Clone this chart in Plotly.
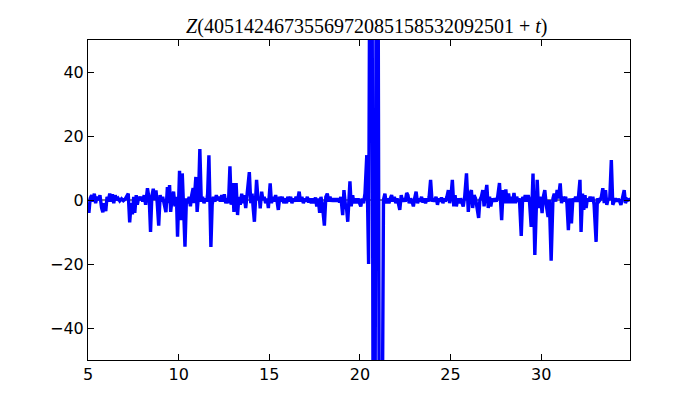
import plotly.graph_objects as go

t = [5.00, 5.05, 5.12, 5.20, 5.28, 5.35, 5.42, 5.50, 5.58, 5.66, 5.75, 5.82, 5.90, 5.98,
     6.05, 6.12, 6.20, 6.28, 6.35, 6.42, 6.50, 6.58, 6.66, 6.75, 6.85, 6.95, 7.05, 7.15,
     7.22, 7.30, 7.38, 7.45, 7.52, 7.58, 7.66, 7.72, 7.80, 7.88, 7.95, 8.02, 8.10, 8.18,
     8.28, 8.38, 8.45, 8.52, 8.60, 8.68, 8.75, 8.82, 8.90, 8.98, 9.05, 9.12, 9.20, 9.30,
     9.38, 9.45,
     9.50, 9.56, 9.64, 9.72, 9.80, 9.88, 9.94, 10.05, 10.12, 10.20, 10.27, 10.35, 10.43,
     10.50, 10.58, 10.65, 10.72, 10.80, 10.85, 10.95, 11.02, 11.10, 11.17, 11.25, 11.32,
     11.40, 11.48, 11.55, 11.60, 11.67, 11.78, 11.85, 11.92, 12.00, 12.08, 12.15, 12.22,
     12.30, 12.38, 12.45, 12.52, 12.60, 12.68, 12.75, 12.83, 12.90, 12.98, 13.05, 13.10,
     13.17, 13.25, 13.32, 13.40, 13.48, 13.55, 13.62, 13.70, 13.78,
     13.90, 13.98, 14.05, 14.12, 14.18, 14.30, 14.38, 14.45, 14.50, 14.58, 14.65, 14.72,
     14.80, 14.88, 14.95, 15.05, 15.12, 15.20, 15.28, 15.35, 15.42, 15.50, 15.58, 15.65,
     15.72, 15.80, 15.88, 15.95, 16.02, 16.10, 16.18, 16.25, 16.32, 16.40, 16.48, 16.55,
     16.65, 16.72, 16.80, 16.88, 16.95, 17.02, 17.10, 17.18, 17.25, 17.32, 17.40, 17.48,
     17.55, 17.62, 17.70, 17.78, 17.85, 17.92, 18.04, 18.12, 18.20, 18.28, 18.35, 18.42,
     18.50,
     18.58, 18.65, 18.72, 18.80, 18.88, 18.95, 19.05, 19.12, 19.20, 19.27, 19.33, 19.45,
     19.52, 19.60, 19.67, 19.75, 19.82, 19.90, 19.98, 20.05, 20.12, 20.20, 20.28, 20.38,
     20.48, 20.62, 20.78, 20.95, 21.12, 21.30,
     21.38, 21.45, 21.52, 21.60, 21.68, 21.75, 21.82, 21.90, 21.98, 22.05, 22.12, 22.20,
     22.28, 22.35, 22.42, 22.50, 22.58,
     22.65, 22.72, 22.80, 22.88, 22.95, 23.02, 23.10, 23.18, 23.25, 23.32, 23.40, 23.48,
     23.55, 23.62, 23.70, 23.78, 23.82, 23.90, 23.98, 24.05, 24.12, 24.20, 24.28, 24.35,
     24.42, 24.50, 24.58, 24.65, 24.72, 24.80, 24.88, 24.95, 25.02, 25.10, 25.18, 25.25,
     25.32, 25.40, 25.48, 25.55, 25.62, 25.70, 25.78, 25.88, 25.98, 26.05, 26.15, 26.22,
     26.30, 26.38, 26.45, 26.55, 26.62, 26.70, 26.78, 26.85, 26.92, 27.00, 27.08,
     27.15, 27.22, 27.30, 27.38, 27.45, 27.52, 27.60, 27.70, 27.82, 27.90, 27.98, 28.05,
     28.12, 28.20, 28.28, 28.35, 28.42, 28.50, 28.58, 28.65, 28.72, 28.80, 28.90, 28.98,
     29.05, 29.12, 29.20, 29.28, 29.35, 29.45, 29.55, 29.65, 29.78, 29.85, 29.92, 30.00,
     30.05, 30.12, 30.20, 30.28, 30.38, 30.45, 30.55, 30.65, 30.72, 30.80, 30.88, 30.95,
     31.05, 31.12, 31.20, 31.28, 31.35, 31.42, 31.50, 31.58, 31.67, 31.75, 31.82, 31.90,
     31.98, 32.05, 32.14, 32.20, 32.28, 32.35, 32.42, 32.48, 32.55, 32.62, 32.70, 32.78,
     32.85, 32.92, 33.03, 33.10, 33.18, 33.25, 33.32, 33.40, 33.48, 33.55, 33.62, 33.70,
     33.78, 33.87, 33.95, 34.02, 34.10, 34.18, 34.25, 34.32, 34.40, 34.48, 34.58, 34.65,
     34.72, 34.80, 34.90, 35.00]

z = [-1, -4, 0.5, 1.5, -0.5, 2, -1, 1, 0, 1.5, -2.5, -3.8, -1, -3.5,
     1, -0.5, 2, -0.5, 1.8, -1, 1.5, 0, 0.5, -0.3, 0.4, -0.2, 0.3, 1.5,
     2, -7, -1, -4.5, 1, -4, 1.5, -1.5, 1, 0, 1, -0.5, 1.5, -1.5,
     3.7, 0, -10, 1, 3.5, 0, 3, -1, -8, 1.5, -0.5, 1, -1, -3.8,
     4, -1,
     4.7, -3.7, 0.5, 2.6, -2, 1, -11.5, 9.1, -6.3, 8.3, -2, -14.6, 0.5,
     -1, 1, -2, 1.5, 3.7, -1, 7.2, -3.7, 2, 15.9, -0.5, 1,
     -1, 0.5, -0.5, 2, 14, -14.7, -1.5, 1, -0.5, 1.5, 0, 1,
     -0.5, 1.5, -0.5, 1.8, -1, 0.5, -1, 10.5, -1.5, 5.3, -3.7, 1,
     5.3, -4.7, 1, -1.5, 2, -1, 1.5, -2.5, 2,
     8.7, -1, 2, -3, -6.8, 6.3, 0, 1, -2.6, 2.6, 0, 1,
     -1, 0.5, -2.5, 5.2, -1, 1, -0.5, 1.5, 0, -3.1, 1, -0.5,
     1, -1, 0.5, -1, 1, -0.5, 1, -1, 0.5, -0.5, 1, -0.5,
     2.6, -0.5, 1, -1, 0.5, -0.5, 1, -0.8, 0.5, -1, 0.5, -1,
     0.8, -2, 0.5, -4, 1, -1, -8, 1, 2, -0.5, 1, -0.5,
     0.5,
     -0.5, 0.5, -0.5, 0.5, -0.8, 1, -4.7, 3.1, -1.5, -3, -6.8, 5.8,
     -2, 1.5, -1, 0.5, -1, 0.5, -1, -2, 0.5, -1, 2, 14,
     -20, 200, -200, 200, -200, 0,
     2, -1, 0.5, -1, 0.5, 1.5, -0.5, 1, -1, 0.5, -1, -3.1,
     1.5, -0.5, 0.5, -0.5, 2.2,
     1.5, -1, 0.5, -0.5, -2, 0.5, 2.6, -1, 0.5, -0.5, 1, -0.8,
     0.5, -1, 0.5, -0.5, 1, 6.3, -0.5, 0.5, -0.5, 1, -1.5, 0.5,
     -0.5, 0.8, -1, 0.5, -0.5, 1, 3.1, -1, 1, 6.3, -2, 1.5,
     -2, 0.5, -1, 0.5, -0.5, -2, 1, 8.3, -3.7, 1.5, 3.1, -2.5,
     1.5, 0.5, -2, -5.6, 0, 1, 3.1, -2, 1.5, 4.7, -2.5,
     1, -2, 0.5, -0.5, 0.5, -0.5, 1, 5.3, -6.3, 3.1, -1, 3.3,
     -1, 2, -1, 1, -1, 2.2, -1, 1, -0.5, 0.5, -11.2, 1,
     -0.5, 1.5, -0.5, 1.5, 0, -8.4, 8.3, -17.2, 6.3, -2.5, 1, -1,
     -4.1, 1, 3.1, -1.5, -5.3, 0, -19, 0.5, 2, -0.5, 3.1, 0.5,
     5.2, -1, 1, -0.5, 1, -1, -9.4, 0.5, -7.3, 0.5, -0.5, 1,
     -0.5, 0.5, 6.3, -10, 2, -3.1, 1.5, -2.5, 0.5, -0.5, 1, -0.5,
     1, -1.5, -13.1, 0.5, -0.5, 0, 1, 3.7, -1, 3.1, -1.5, 0.5,
     0, 12.5, -1.5, -0.5, 0.5, -0.5, 0.3, -0.3, -1.5, 0.5, 3.1, -1,
     0.3, 0, 0.2, 0]

x_ticks = [5, 10, 15, 20, 25, 30]
y_ticks = [-40, -20, 0, 20, 40]
title_text = "<i>Z</i>(4051424673556972085158532092501 + <i>t</i>)"

fig = go.Figure()
fig.add_trace(go.Scatter(x=[5, 35], y=[0, 0], mode="lines",
                         line=dict(color="black", width=1), hoverinfo="skip"))
fig.add_trace(go.Scatter(x=t, y=z, mode="lines",
                         line=dict(color="#0000ff", width=3.4)))

axis_common = dict(showgrid=False, zeroline=False, showline=True, linecolor="black",
                   linewidth=1, mirror="ticks", ticks="inside", ticklen=6,
                   tickcolor="black", tickfont=dict(family="DejaVu Sans", size=16,
                                                    color="black"))
fig.update_xaxes(range=[5, 34.9], tickvals=x_ticks, **axis_common)
fig.update_yaxes(range=[-50, 50], tickvals=y_ticks, **axis_common)

fig.update_layout(
    width=700, height=400,
    margin=dict(l=80, r=78, t=32, b=48),
    paper_bgcolor="white", plot_bgcolor="white",
    showlegend=False,
    title=dict(text=title_text, x=0.5125, xanchor="center", y=0.955, yanchor="middle",
               font=dict(family="Liberation Serif", size=20, color="black")),
)

fig.write_html("out.html")
